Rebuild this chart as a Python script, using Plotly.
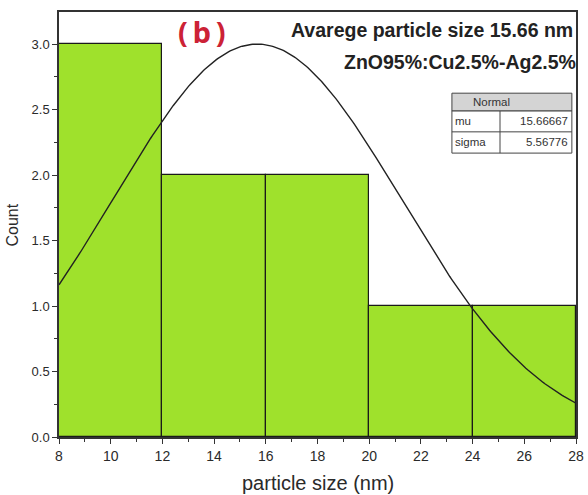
import numpy as np
import plotly.graph_objects as go

bin_left = [8, 12, 16, 20, 24]
bin_width = 4
counts = [3, 2, 2, 1, 1]
mu = 15.66667
sigma = 5.56776
x_ticks = [8, 10, 12, 14, 16, 18, 20, 22, 24, 26, 28]
y_ticks = [0.0, 0.5, 1.0, 1.5, 2.0, 2.5, 3.0]

centers = [b + bin_width / 2 for b in bin_left]
xs = np.linspace(8, 28, 300)
amp = max(counts)
ys = amp * np.exp(-(xs - mu) ** 2 / (2 * sigma ** 2))

fig = go.Figure()
fig.add_trace(go.Bar(x=centers, y=counts, width=[bin_width] * len(counts),
                     marker=dict(color="#9FE12C", line=dict(color="#1a1a1a", width=1.2)),
                     showlegend=False))
fig.add_trace(go.Scatter(x=xs, y=ys, mode="lines", line=dict(color="#222", width=1.4),
                         showlegend=False))

FF = "Liberation Sans, Arial"
fig.update_layout(
    width=588, height=495,
    margin=dict(l=59, r=12, t=12, b=58),
    paper_bgcolor="white", plot_bgcolor="white",
    bargap=0,
    xaxis=dict(range=[8, 28], tickvals=x_ticks, ticktext=[str(v) for v in x_ticks],
               automargin=False,
               showgrid=False, zeroline=False, showline=True, linecolor="#333", linewidth=1.5,
               mirror=True, ticks="outside", ticklen=5, tickcolor="#333",
               tickfont=dict(family=FF, size=14, color="#2a2a2a"),
               minor=dict(ticks="outside", ticklen=3, dtick=1, tickcolor="#333")),
    yaxis=dict(range=[0, 3.245], tickvals=y_ticks, ticktext=[f"{v:.1f}" for v in y_ticks],
               automargin=False,
               showgrid=False, zeroline=False, showline=True, linecolor="#333", linewidth=1.5,
               mirror=True, ticks="outside", ticklen=5, tickcolor="#333",
               tickfont=dict(family=FF, size=13, color="#2a2a2a"),
               minor=dict(ticks="outside", ticklen=3, dtick=0.25, tickcolor="#333")),
)

# axis titles
fig.add_annotation(x=0.5, y=-0.108, xref="paper", yref="paper", text="particle size (nm)",
                   showarrow=False, xanchor="center", yanchor="middle",
                   font=dict(family=FF, size=20, color="#2a2a2a"))
fig.add_annotation(x=-0.089, y=0.5, xref="paper", yref="paper", text="Count",
                   showarrow=False, xanchor="center", yanchor="middle", textangle=-90,
                   font=dict(family=FF, size=16, color="#2a2a2a"))

fig.add_annotation(x=0.277, y=0.953, xref="paper", yref="paper", text="<b>(\u2009b\u2009)</b>",
                   showarrow=False, xanchor="center", yanchor="middle",
                   font=dict(family="Noto Sans, Open Sans", size=29, color="#cc2236"))
fig.add_annotation(x=0.998, y=0.958, xref="paper", yref="paper",
                   text="<b>Avarege particle size 15.66 nm</b>", showarrow=False,
                   xanchor="right", yanchor="middle",
                   font=dict(family=FF, size=19.5, color="#222"))
fig.add_annotation(x=1.004, y=0.882, xref="paper", yref="paper",
                   text="<b>ZnO95%:Cu2.5%-Ag2.5%</b>", showarrow=False,
                   xanchor="right", yanchor="middle",
                   font=dict(family=FF, size=19.5, color="#222"))

# stats table
tx0, tx1, tsplit = 0.760, 0.992, 0.853
ty = [0.809, 0.767, 0.718, 0.668]
fig.add_shape(type="rect", xref="paper", yref="paper", x0=tx0, x1=tx1, y0=ty[1], y1=ty[0],
              fillcolor="#d4d4d4", line=dict(color="#444", width=1))
fig.add_shape(type="rect", xref="paper", yref="paper", x0=tx0, x1=tx1, y0=ty[3], y1=ty[1],
              fillcolor="white", line=dict(color="#444", width=1))
fig.add_shape(type="line", xref="paper", yref="paper", x0=tx0, x1=tx1, y0=ty[2], y1=ty[2],
              line=dict(color="#444", width=1))
fig.add_shape(type="line", xref="paper", yref="paper", x0=tsplit, x1=tsplit, y0=ty[3], y1=ty[1],
              line=dict(color="#444", width=1))
tfont = dict(family=FF, size=11.5, color="#333")
fig.add_annotation(x=(tx0 + tx1) / 2, y=(ty[0] + ty[1]) / 2, xref="paper", yref="paper",
                   text="Normal", showarrow=False, yanchor="middle", font=tfont)
for i, (lab, val) in enumerate([("mu", mu), ("sigma", sigma)]):
    yc = (ty[i + 1] + ty[i + 2]) / 2
    fig.add_annotation(x=tx0 + 0.003, y=yc, xref="paper", yref="paper", text=lab,
                       showarrow=False, xanchor="left", yanchor="middle", font=tfont)
    fig.add_annotation(x=tx1 - 0.003, y=yc, xref="paper", yref="paper", text=f"{val:.5f}",
                       showarrow=False, xanchor="right", yanchor="middle", font=tfont)

fig.write_html("out.html")
